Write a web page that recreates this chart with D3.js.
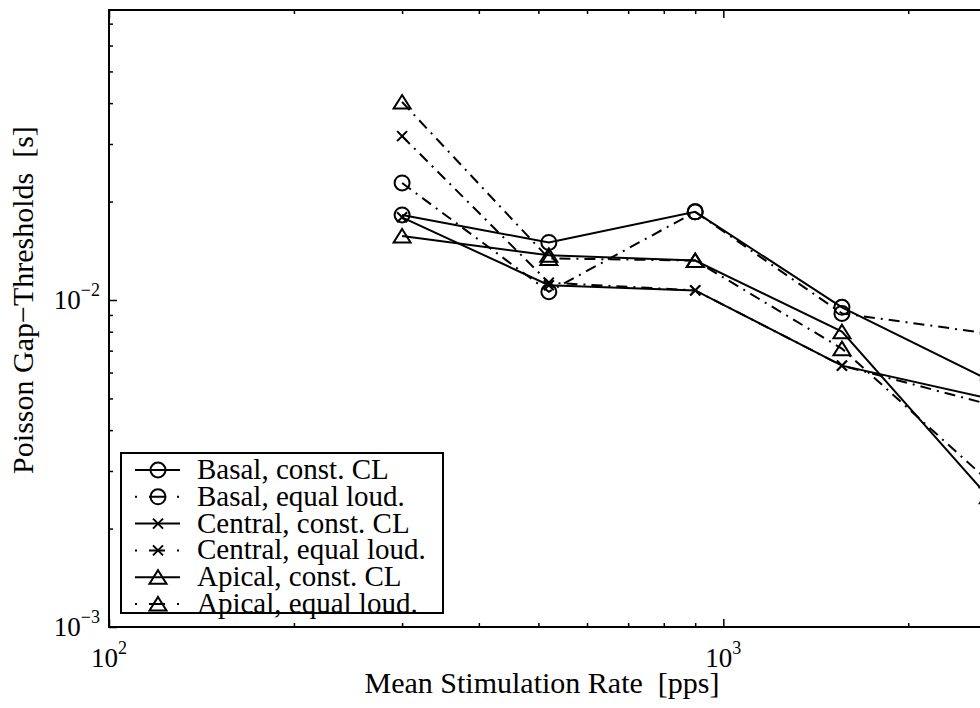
<!DOCTYPE html>
<html>
<head>
<meta charset="utf-8">
<script src="https://cdn.jsdelivr.net/npm/d3@7"></script>
<style>
body { margin: 0; background: #fff; }
text { font-family: "Liberation Serif", "Times New Roman", serif; fill: #000; }
</style>
</head>
<body>
<svg id="chart" width="980" height="708"></svg>
<script>
// stimulation rates (pps)
var rates = [300, 520, 900, 1560, 2700];

// gap thresholds (s)
var basalConst   = [0.0182, 0.0150, 0.0186, 0.0095, 0.0057];
var basalEqual   = [0.0228, 0.0106, 0.0186, 0.0091, 0.0079];
var centralConst = [0.0179, 0.0111, 0.0107, 0.0063, 0.0050];
var centralEqual = [0.0317, 0.0113, 0.0107, 0.0063, 0.0048];
var apicalConst  = [0.0157, 0.0137, 0.0132, 0.0080, 0.0025];
var apicalEqual  = [0.0403, 0.0134, 0.0132, 0.0071, 0.0028];

var seriesLabels = ["Basal, const. CL", "Basal, equal loud.", "Central, const. CL",
                    "Central, equal loud.", "Apical, const. CL", "Apical, equal loud."];

var xMajor = [100, 1000], xMajorExp = ["2", "3"];
var xMinor = [200, 300, 400, 500, 600, 700, 800, 900, 2000];
var yMajor = [0.001, 0.01], yMajorExp = ["\u22123", "\u22122"];
var yMinor = [0.002, 0.003, 0.004, 0.005, 0.006, 0.007, 0.008, 0.009,
              0.02, 0.03, 0.04, 0.05, 0.06, 0.07];

var series = [
  {name: seriesLabels[0], values: basalConst,   marker: "o", dashed: false},
  {name: seriesLabels[1], values: basalEqual,   marker: "o", dashed: true},
  {name: seriesLabels[2], values: centralConst, marker: "x", dashed: false},
  {name: seriesLabels[3], values: centralEqual, marker: "x", dashed: true},
  {name: seriesLabels[4], values: apicalConst,  marker: "^", dashed: false},
  {name: seriesLabels[5], values: apicalEqual,  marker: "^", dashed: true}
];

var svg = d3.select("#chart"),
    pLeft = 109, pTop = 10, pBottom = 627, pRight = 998;

var x = d3.scaleLog().domain([100, 2800]).range([pLeft, pRight]),
    y = d3.scaleLog().domain([0.001, 0.07706]).range([pBottom, pTop]);

var dashPattern = "11,6,2,6";

svg.append("defs").append("clipPath").attr("id", "plotclip")
  .append("rect").attr("x", pLeft).attr("y", pTop)
  .attr("width", pRight - pLeft).attr("height", pBottom - pTop);

// axis ticks (inward), major and minor
function tickAxis(axis, scale, vals, size, tr) {
  var g = svg.append("g").attr("transform", tr)
    .call(axis(scale).tickValues(vals).tickSize(-size).tickSizeOuter(0).tickFormat(""));
  g.select(".domain").remove();
  g.selectAll(".tick line").attr("stroke", "#000").attr("stroke-width", 1.5);
}
tickAxis(d3.axisBottom, x, xMajor, 8, "translate(0," + pBottom + ")");
tickAxis(d3.axisBottom, x, xMinor, 4, "translate(0," + pBottom + ")");
tickAxis(d3.axisTop, x, xMajor, 8, "translate(0," + pTop + ")");
tickAxis(d3.axisTop, x, xMinor, 4, "translate(0," + pTop + ")");
tickAxis(d3.axisLeft, y, yMajor, 8, "translate(" + pLeft + ",0)");
tickAxis(d3.axisLeft, y, yMinor, 4, "translate(" + pLeft + ",0)");

// frame
svg.append("rect")
  .attr("x", pLeft).attr("y", pTop)
  .attr("width", pRight - pLeft).attr("height", pBottom - pTop)
  .attr("fill", "none").attr("stroke", "#000").attr("stroke-width", 2);

// tick labels
xMajor.forEach(function (v, i) {
  var t = svg.append("text").attr("x", x(v)).attr("y", pBottom + 40)
    .attr("text-anchor", "middle").style("font-size", "27px");
  t.append("tspan").text("10");
  t.append("tspan").attr("dy", -13).style("font-size", "18px").text(xMajorExp[i]);
});
yMajor.forEach(function (v, i) {
  var t = svg.append("text").attr("x", pLeft - 9).attr("y", y(v) + 9)
    .attr("text-anchor", "end").style("font-size", "27px");
  t.append("tspan").text("10");
  t.append("tspan").attr("dy", -13).style("font-size", "18px").text(yMajorExp[i]);
});

// axis labels
svg.append("text")
  .attr("x", 542).attr("y", 693)
  .attr("text-anchor", "middle").style("font-size", "30px")
  .text("Mean Stimulation Rate \u00a0[pps]");
svg.append("text")
  .attr("transform", "translate(33,300) rotate(-90)")
  .attr("text-anchor", "middle").style("font-size", "30px")
  .text("Poisson Gap\u2212Thresholds \u00a0[s]");

function drawMarker(g, type, cx, cy) {
  if (type === "o") {
    g.append("circle").attr("cx", cx).attr("cy", cy).attr("r", 7.5)
      .attr("fill", "none").attr("stroke", "#000").attr("stroke-width", 2);
  } else if (type === "x") {
    g.append("path")
      .attr("d", "M" + (cx - 5) + "," + (cy - 5) + "L" + (cx + 5) + "," + (cy + 5) +
                 "M" + (cx - 5) + "," + (cy + 5) + "L" + (cx + 5) + "," + (cy - 5))
      .attr("stroke", "#000").attr("stroke-width", 2).attr("fill", "none");
  } else {
    g.append("path")
      .attr("d", "M" + cx + "," + (cy - 7) + "L" + (cx + 8.5) + "," + (cy + 6.5) +
                 "L" + (cx - 8.5) + "," + (cy + 6.5) + "Z")
      .attr("stroke", "#000").attr("stroke-width", 2).attr("fill", "none");
  }
}

var line = d3.line()
  .x(function (d, i) { return x(rates[i]); })
  .y(function (d) { return y(d); });

var plot = svg.append("g").attr("clip-path", "url(#plotclip)");

series.forEach(function (s) {
  plot.append("path")
    .attr("d", line(s.values))
    .attr("fill", "none").attr("stroke", "#000").attr("stroke-width", 2)
    .attr("stroke-dasharray", s.dashed ? dashPattern : null);
  s.values.forEach(function (v, i) {
    drawMarker(plot, s.marker, x(rates[i]), y(v));
  });
});

// legend
var lg = svg.append("g");
lg.append("rect")
  .attr("x", 121).attr("y", 453).attr("width", 322).attr("height", 160)
  .attr("fill", "#fff").attr("stroke", "#000").attr("stroke-width", 2);

series.forEach(function (s, i) {
  var ly = 470 + i * 26.8;
  lg.append("line")
    .attr("x1", 135).attr("x2", 180).attr("y1", ly).attr("y2", ly)
    .attr("stroke", "#000").attr("stroke-width", 2)
    .attr("stroke-dasharray", s.dashed ? "2,12,16,12,2,20" : null);
  drawMarker(lg, s.marker, 158, ly);
  lg.append("text")
    .attr("x", 197).attr("y", ly + 9)
    .style("font-size", "29px")
    .text(s.name);
});
</script>
</body>
</html>
